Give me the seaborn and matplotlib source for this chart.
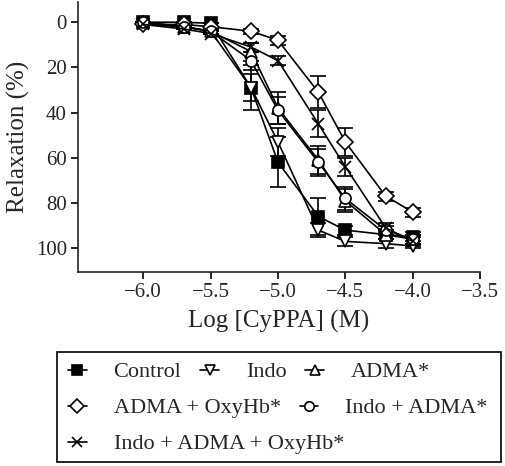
import numpy as np
import pandas as pd
import seaborn as sns
import matplotlib
matplotlib.use('Agg')
import matplotlib.pyplot as plt
from matplotlib.patches import Rectangle
from matplotlib.ticker import FuncFormatter

# log concentration of CyPPA (M)
log_conc = [-6.0, -5.7, -5.5, -5.2, -5.0, -4.7, -4.5, -4.2, -4.0]

control = [0, 0, 0.5, 29, 62, 86, 92, 94, 95]
control_err = [0, 0, 0, 10, 11, 8, 2, 2, 2]
indo = [1, 2, 4, 29, 53, 92, 97, 98, 99]
indo_err = [0, 0, 0, 6, 6, 3, 2, 2, 1]
adma = [0, 2, 4, 13, 38, 61, 79, 94, 96]
adma_err = [0, 0, 1, 4, 7, 6, 5, 2, 2]
adma_oxyhb = [1, 1, 2, 4, 8, 31, 53, 77, 84]
adma_oxyhb_err = [0, 0, 0, 1, 2, 7, 6, 2, 2]
indo_adma = [0, 2, 4, 17, 39, 62, 78, 92, 96]
indo_adma_err = [0, 0, 1, 4, 6, 6, 5, 2, 2]
indo_adma_oxyhb = [1, 3, 5, 11, 17, 45, 64, 91, 97]
indo_adma_oxyhb_err = [0, 0, 0, 2, 2, 6, 4, 2, 2]

labels = ['Control', 'Indo', 'ADMA*', 'ADMA + OxyHb*', 'Indo + ADMA*',
          'Indo + ADMA + OxyHb*']
means = [control, indo, adma, adma_oxyhb, indo_adma, indo_adma_oxyhb]
errs = [control_err, indo_err, adma_err, adma_oxyhb_err, indo_adma_err,
        indo_adma_oxyhb_err]
markers = ['s', 'v', '^', 'D', 'o', 'x']
fills = ['black', 'white', 'white', 'white', 'white', 'black']
sizes = [8, 8.5, 8.5, 8.5, 8, 8]

sns.set_style('ticks')
plt.rcParams['font.family'] = ['Liberation Serif', 'DejaVu Serif']
plt.rcParams['axes.linewidth'] = 1.2

fig = plt.figure(figsize=(5.05, 4.66), dpi=100)
ax = fig.add_axes([0.1545, 0.417, 0.796, 0.579])

for lab, m, e, mk, fc, ms in zip(labels, means, errs, markers, fills, sizes):
    df = pd.DataFrame({'x': log_conc, 'y': m})
    ax.errorbar(log_conc, m, yerr=e, fmt='none', ecolor='black',
                elinewidth=1.2, capsize=6, capthick=1.2, zorder=2)
    sns.lineplot(data=df, x='x', y='y', ax=ax, color='black', linewidth=1.2,
                 marker=mk, markersize=ms, markerfacecolor=fc,
                 markeredgecolor='black', markeredgewidth=1.2, label=lab,
                 zorder=3)

ax.set_xlim(-6.485, -3.5)
ax.set_ylim(110.4, -9)
ax.set_xticks(np.arange(-6.0, -3.49, 0.5))
ax.set_yticks([0, 20, 40, 60, 80, 100])
ax.xaxis.set_major_formatter(FuncFormatter(lambda v, p: f'{v:.1f}'.replace('-', '\u2212')))
ax.tick_params(axis='both', labelsize=15, width=1.2, length=5, color='black', pad=3)
ax.set_xlabel('Log [CyPPA] (M)', fontsize=18, labelpad=6)
ax.set_ylabel('Relaxation (%)', fontsize=18, labelpad=4)
sns.despine(ax=ax)

handles, hlabels = ax.get_legend_handles_labels()
ax.get_legend().remove()

# legend box drawn by hand, three rows laid out like the original
fig.patches.append(Rectangle((57 / 505, 1 - 462 / 466), 444 / 505, 110 / 466,
                             transform=fig.transFigure, fill=False,
                             edgecolor='black', linewidth=1.2))
rows = [[0, 1, 2], [3, 4], [5]]
row_y = [372, 408, 444]
for r, yy in zip(rows, row_y):
    fig.legend([handles[i] for i in r], [hlabels[i] for i in r],
               loc='center left', bbox_to_anchor=(68 / 505, 1 - yy / 466),
               ncol=len(r), frameon=False, fontsize=16, handlelength=0.85,
               handletextpad=1.2, columnspacing=0.85, borderpad=0,
               borderaxespad=0, markerscale=0.85)

fig.savefig('out.png', dpi=100)
